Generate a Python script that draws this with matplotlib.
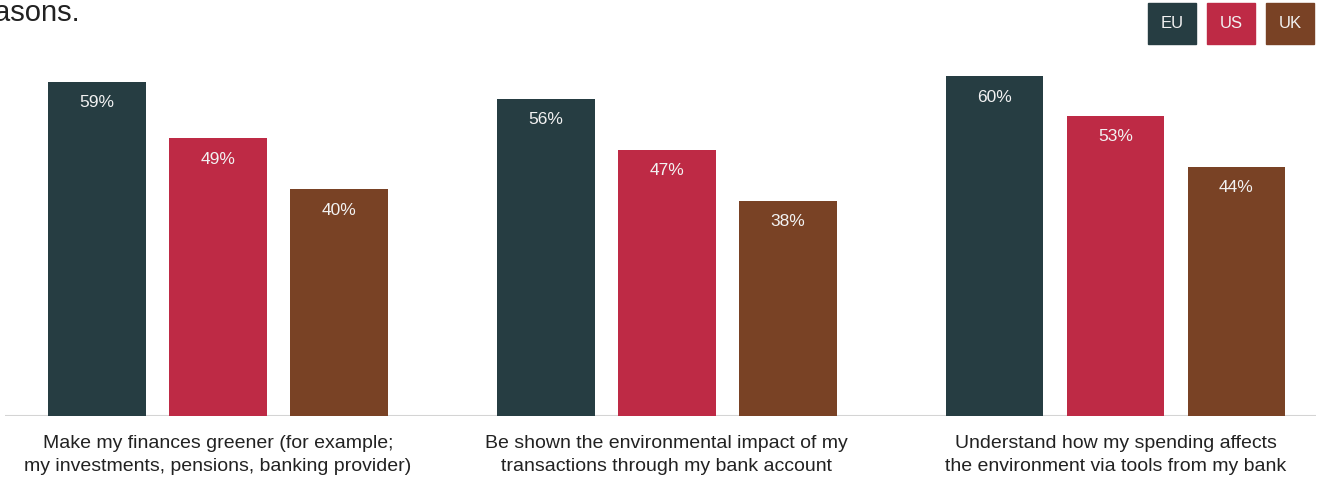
import numpy as np
import matplotlib.pyplot as plt
from matplotlib.patches import Rectangle

plt.rcParams['font.family'] = ['Liberation Sans', 'DejaVu Sans']

categories = [
    'Make my finances greener (for example;\nmy investments, pensions, banking provider)',
    'Be shown the environmental impact of my\ntransactions through my bank account',
    'Understand how my spending affects\nthe environment via tools from my bank',
]
regions = ['EU', 'US', 'UK']
eu = [59, 56, 60]
us = [49, 47, 53]
uk = [40, 38, 44]
colors = ['#263d42', '#be2a45', '#794225']

W, H = 1318, 482
fig = plt.figure(figsize=(W / 100, H / 100), dpi=100)
ax = fig.add_axes([5 / W, 66 / H, 1311 / W, 416 / H])

x = np.arange(len(categories))
width = 0.218
offset = 0.2696
for k, (vals, col) in enumerate(zip([eu, us, uk], colors)):
    pos = x + (k - 1) * offset
    bars = ax.bar(pos, vals, width=width, color=col, zorder=2)
    for b, v in zip(bars, vals):
        ax.text(b.get_x() + b.get_width() / 2, v - 2.4, f'{v}%',
                ha='center', va='top', color='#f2f2f2', fontsize=12.5)

ax.set_xlim(-0.4747, 2.4468)
ax.set_ylim(0, 73.4)
ax.axhline(0, color='#d4d4d4', lw=1.5, zorder=1)
for s in ax.spines.values():
    s.set_visible(False)
ax.set_xticks([])
ax.set_yticks([])

for xi, lab in zip(x, categories):
    ax.annotate(lab, (xi, 0), xytext=(0, -14), textcoords='offset points',
                ha='center', va='top', fontsize=14, color='#222222',
                linespacing=1.4, annotation_clip=False)

# title fragment at the top left
fig.text(80 / W, 1 - 21 / H, 'reasons.', ha='right', va='baseline',
         fontsize=21, color='#222222')

# legend boxes, top right
for i, (lab, col) in enumerate(zip(regions, colors)):
    x0 = 1148 + i * 59
    fig.patches.append(Rectangle((x0 / W, 1 - 44 / H), 48 / W, 41 / H,
                                 transform=fig.transFigure, color=col))
    fig.text((x0 + 24) / W, 1 - 23.5 / H, lab, ha='center', va='center',
             color='#f2f2f2', fontsize=12)

fig.savefig('out.png', dpi=100)
plt.close('all')
